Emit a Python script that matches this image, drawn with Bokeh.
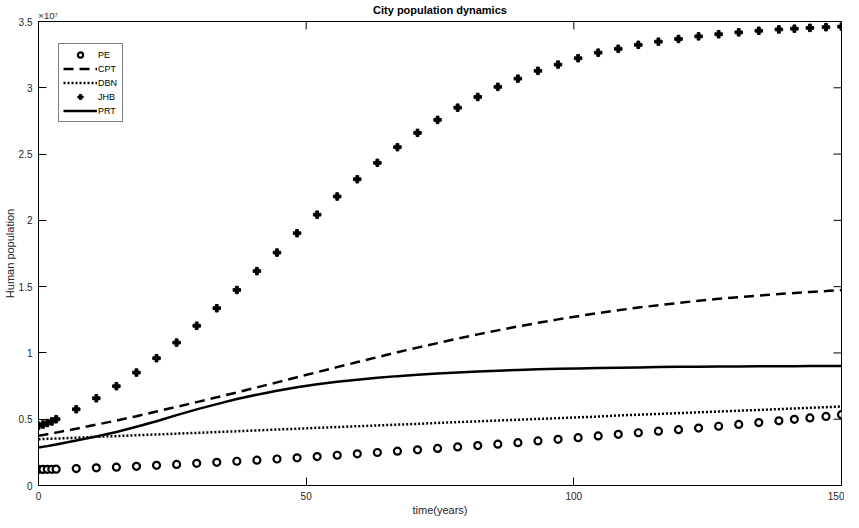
import math
from bokeh.plotting import figure
from bokeh.models import FixedTicker, LinearAxis, Legend, LegendItem, Range1d
from bokeh.embed import file_html
from bokeh.resources import INLINE

# time (years) of solver output points
t = [0, 0.83, 1.65, 2.48, 3.3,
     7.05, 10.8, 14.55, 18.3, 22.05, 25.8, 29.55, 33.3, 37.05, 40.8,
     44.55, 48.3, 52.05, 55.8, 59.55, 63.3, 67.05, 70.8, 74.55, 78.3,
     82.05, 85.8, 89.55, 93.3, 97.05, 100.8, 104.55, 108.3, 112.05, 115.8,
     119.55, 123.3, 127.05, 130.8, 134.55, 138.3,
     141.2, 144.1, 147.1, 150]

# populations in millions
pe = [1.21, 1.21, 1.22, 1.22, 1.23,
      1.28, 1.33, 1.38, 1.45, 1.52, 1.59, 1.67, 1.75, 1.83, 1.91,
      2.00, 2.09, 2.18, 2.28, 2.39, 2.49, 2.59, 2.69, 2.80, 2.91,
      3.01, 3.12, 3.23, 3.36, 3.48, 3.61, 3.74, 3.86, 3.98, 4.10,
      4.21, 4.33, 4.47, 4.61, 4.75, 4.88,
      4.99, 5.10, 5.21, 5.34]

cpt = [3.75, 3.81, 3.87, 3.93, 3.99,
       4.28, 4.59, 4.90, 5.23, 5.58, 5.93, 6.29, 6.65, 7.02, 7.40,
       7.78, 8.17, 8.55, 8.93, 9.31, 9.68, 10.05, 10.40, 10.74, 11.08,
       11.40, 11.70, 12.00, 12.27, 12.53, 12.77, 13.01, 13.22, 13.42, 13.60,
       13.77, 13.94, 14.08, 14.21, 14.33, 14.44,
       14.52, 14.60, 14.67, 14.74]

dbn = [3.49, 3.50, 3.52, 3.53, 3.54,
       3.60, 3.67, 3.73, 3.79, 3.85, 3.91, 3.97, 4.03, 4.09, 4.16,
       4.22, 4.28, 4.35, 4.41, 4.47, 4.53, 4.59, 4.65, 4.72, 4.78,
       4.84, 4.90, 4.96, 5.02, 5.08, 5.14, 5.20, 5.28, 5.34, 5.40,
       5.46, 5.52, 5.58, 5.64, 5.70, 5.76,
       5.81, 5.86, 5.91, 5.96]

jhb = [4.50, 4.60, 4.71, 4.83, 5.00,
       5.75, 6.58, 7.49, 8.52, 9.60, 10.78, 12.05, 13.37, 14.75, 16.17,
       17.57, 19.03, 20.43, 21.80, 23.10, 24.34, 25.52, 26.60, 27.58, 28.50,
       29.31, 30.07, 30.69, 31.28, 31.75, 32.23, 32.65, 32.94, 33.24, 33.48,
       33.68, 33.88, 34.04, 34.18, 34.30, 34.40,
       34.46, 34.52, 34.57, 34.61]

prt = [2.87, 2.92, 2.97, 3.03, 3.09,
       3.39, 3.70, 4.04, 4.43, 4.85, 5.31, 5.74, 6.14, 6.52, 6.85,
       7.14, 7.41, 7.63, 7.82, 7.98, 8.13, 8.25, 8.36, 8.45, 8.53,
       8.60, 8.66, 8.71, 8.76, 8.80, 8.83, 8.86, 8.89, 8.91, 8.93,
       8.95, 8.96, 8.97, 8.98, 8.99, 9.00,
       9.00, 9.01, 9.01, 9.02]

x_ticks = [0, 50, 100, 150]
y_ticks = [0, 5, 10, 15, 20, 25, 30, 35]
y_tick_labels = ["0", "0.5", "1", "1.5", "2", "2.5", "3", "3.5"]
exponent_label = "×10⁷"
exponent_pos = 1.8
title_text = "City population dynamics"

FONT = "Liberation Sans"
TXT = "#262626"
X0, X1, Y0, Y1 = 0, 150, 0, 35

p = figure(frame_width=803, frame_height=464, output_backend="svg",
           toolbar_location=None,
           x_range=Range1d(X0, X1), y_range=Range1d(Y0, Y1),
           min_border_left=37, min_border_right=3, min_border_top=16,
           min_border_bottom=32)
p.title = None
p.xgrid.visible = False
p.ygrid.visible = False
p.outline_line_color = "black"
p.outline_line_width = 1
p.background_fill_color = "white"

for ax, ticks in ((p.xaxis[0], x_ticks), (p.yaxis[0], y_ticks)):
    ax.ticker = FixedTicker(ticks=ticks)
    ax.major_tick_in = 8
    ax.major_tick_out = 0
    ax.minor_tick_line_color = None
    ax.axis_line_color = "black"
    ax.major_tick_line_color = "black"
    ax.major_label_text_font = FONT
    ax.major_label_text_color = TXT
    ax.major_label_text_font_size = "10px"
    ax.axis_label_text_font = FONT
    ax.axis_label_text_font_size = "11px"
    ax.axis_label_text_font_style = "normal"
    ax.axis_label_text_color = TXT
p.yaxis[0].major_label_overrides = {v: s for v, s in zip(y_ticks, y_tick_labels)}
p.xaxis[0].axis_label = "time(years)"
p.yaxis[0].axis_label = "Human population"
p.xaxis[0].major_label_standoff = 6
p.xaxis[0].axis_label_standoff = 1
p.yaxis[0].major_label_standoff = 6
p.yaxis[0].axis_label_standoff = 0

# top axis carries the exponent (as tick label) and the title (as axis label)
top = LinearAxis(ticker=FixedTicker(ticks=[exponent_pos]),
                 major_label_overrides={exponent_pos: exponent_label})
top.axis_line_color = None
top.major_tick_line_color = None
top.minor_tick_line_color = None
top.major_tick_in = 0
top.major_tick_out = 0
top.major_label_standoff = 1
top.major_label_text_font = FONT
top.major_label_text_font_size = "9.5px"
top.major_label_text_color = TXT
top.axis_label = title_text
top.axis_label_text_font = FONT
top.axis_label_text_font_size = "11px"
top.axis_label_text_font_style = "bold"
top.axis_label_text_color = "black"
top.axis_label_standoff = -9
p.add_layout(top, "above")

# inward ticks on the top and right edges of the box (clipped to the frame)
p.scatter(x_ticks, [Y1] * len(x_ticks), marker="dash", angle=math.pi / 2,
          size=16, line_color="black", line_width=1)
p.scatter([X1] * len(y_ticks), y_ticks, marker="dash", size=16,
          line_color="black", line_width=1)

r_pe = p.scatter(t, pe, marker="circle", size=7, fill_color="white",
                 line_color="black", line_width=2.2)
r_cpt = p.line(t, cpt, line_color="black", line_width=2.5, line_dash="10 6")
r_dbn = p.line(t, dbn, line_color="black", line_width=2.5, line_dash="2 2")
r_jhb = p.scatter(t, jhb, marker="plus", size=7.5, fill_color="black",
                  line_color="black", line_width=1)
r_prt = p.line(t, prt, line_color="black", line_width=2.5)

legend = Legend(items=[LegendItem(label="PE", renderers=[r_pe]),
                       LegendItem(label="CPT", renderers=[r_cpt]),
                       LegendItem(label="DBN", renderers=[r_dbn]),
                       LegendItem(label="JHB", renderers=[r_jhb]),
                       LegendItem(label="PRT", renderers=[r_prt])],
                location=(20, 363))
legend.label_text_font = FONT
legend.label_text_font_size = "9px"
legend.label_text_color = "#000000"
legend.label_height = 13
legend.glyph_height = 13
legend.glyph_width = 34
legend.label_standoff = 1
legend.spacing = 1
legend.padding = 4
legend.margin = 0
legend.border_line_color = "black"
legend.border_line_width = 1
legend.background_fill_alpha = 1
p.add_layout(legend)

open("out.html", "w").write(file_html(p, INLINE))
